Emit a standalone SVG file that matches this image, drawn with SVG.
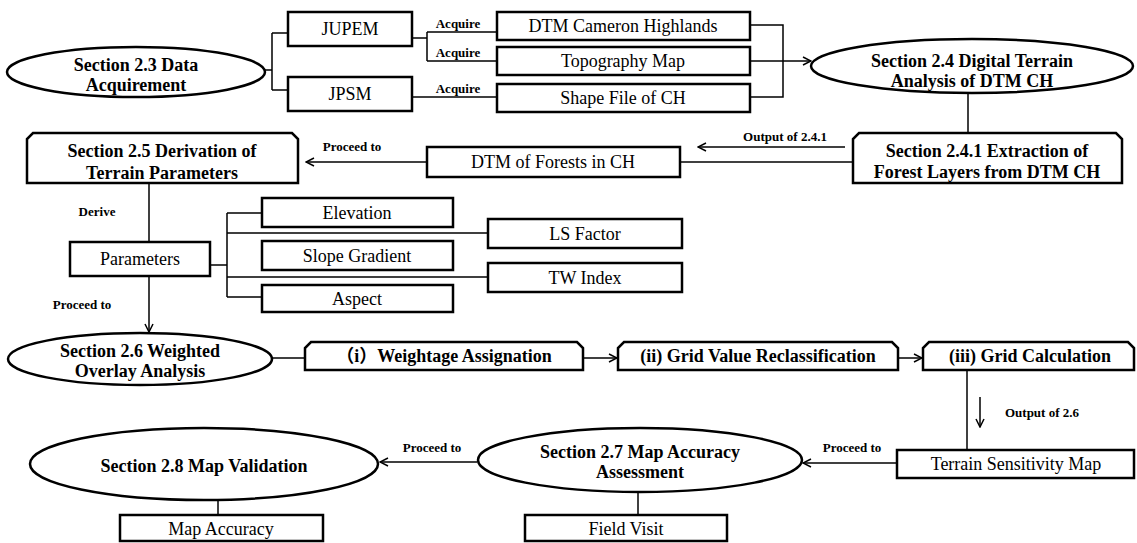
<svg xmlns="http://www.w3.org/2000/svg" width="1137" height="543" viewBox="0 0 1137 543">
<style>
.box{fill:#fff;stroke:#000;stroke-width:2.5}
.ell{fill:#fff;stroke:#000;stroke-width:2.5}
.ln{fill:none;stroke:#000;stroke-width:1.5}
.t{font-family:"Liberation Serif",serif;font-size:18px;text-anchor:middle;fill:#000}
.tb{font-family:"Liberation Serif",serif;font-size:18px;font-weight:bold;text-anchor:middle;fill:#000}
.lb{font-family:"Liberation Serif",serif;font-size:13px;font-weight:bold;text-anchor:middle;fill:#000}
.cjk{font-family:"Noto Sans CJK SC",sans-serif}
</style>
<defs>
<marker id="ah" viewBox="0 0 10 10" refX="9" refY="5" markerWidth="10" markerHeight="10" markerUnits="userSpaceOnUse" orient="auto">
<path d="M1,1 L9,5 L1,9" fill="none" stroke="#000" stroke-width="1.5"/>
</marker>
</defs>
<rect width="1137" height="543" fill="#fff"/>
<g id="connectors">
<path class="ln" d="M265,70 H272 M272,33 V90 M272,33 H288 M272,90 H288"/>
<path class="ln" d="M412,38 H427 M427,32 V61 M427,32 H497 M427,61 H497"/>
<path class="ln" d="M412,97 H497"/>
<path class="ln" d="M750,25 H783 V97 H750"/>
<path class="ln" d="M750,61 H811" marker-end="url(#ah)"/>
<path class="ln" d="M968,93 V133"/>
<path class="ln" d="M853,162 H680"/>
<path class="ln" d="M845,147 H698" marker-end="url(#ah)"/>
<path class="ln" d="M427,162 H306" marker-end="url(#ah)"/>
<path class="ln" d="M149,183 V242"/>
<path class="ln" d="M210,265 H227 M227,213 V297 M227,213 H262 M227,233 H488 M227,277 H488 M227,297 H262"/>
<path class="ln" d="M149,276 V332" marker-end="url(#ah)"/>
<path class="ln" d="M272,358 H305"/>
<path class="ln" d="M583,358 H617" marker-end="url(#ah)"/>
<path class="ln" d="M898,358 H922" marker-end="url(#ah)"/>
<path class="ln" d="M967,370 V450"/>
<path class="ln" d="M980,397 V427" marker-end="url(#ah)"/>
<path class="ln" d="M897,463 H803" marker-end="url(#ah)"/>
<path class="ln" d="M477,462 H380" marker-end="url(#ah)"/>
<path class="ln" d="M638,492 V515"/>
<path class="ln" d="M218,500 V515"/>
<text class="lb" x="458" y="28">Acquire</text>
<text class="lb" x="458" y="57">Acquire</text>
<text class="lb" x="458" y="93">Acquire</text>
<text class="lb" x="785" y="141">Output of 2.4.1</text>
<text class="lb" x="352" y="151">Proceed to</text>
<text class="lb" x="97" y="216">Derive</text>
<text class="lb" x="82" y="309">Proceed to</text>
<text class="lb" x="1042" y="417">Output of 2.6</text>
<text class="lb" x="852" y="452">Proceed to</text>
<text class="lb" x="432" y="452">Proceed to</text>
</g>
<g id="n23"><ellipse class="ell" cx="136" cy="72" rx="129" ry="25"/><text class="tb" x="136" y="71">Section 2.3 Data</text><text class="tb" x="136" y="91">Acquirement</text></g>
<g id="jupem"><rect class="box" x="288" y="12" width="124" height="34"/><text class="t" x="350" y="35">JUPEM</text></g>
<g id="jpsm"><rect class="box" x="288" y="77" width="124" height="34"/><text class="t" x="350" y="100">JPSM</text></g>
<g id="dtmch"><rect class="box" x="497" y="12" width="253" height="28"/><text class="t" x="623" y="32">DTM Cameron Highlands</text></g>
<g id="topo"><rect class="box" x="497" y="47" width="253" height="28"/><text class="t" x="623" y="67">Topography Map</text></g>
<g id="shape"><rect class="box" x="497" y="84" width="253" height="28"/><text class="t" x="623" y="104">Shape File of CH</text></g>
<g id="n24"><ellipse class="ell" cx="972" cy="66" rx="161" ry="27"/><text class="tb" x="972" y="67">Section 2.4 Digital Terrain</text><text class="tb" x="972" y="87">Analysis of DTM CH</text></g>
<g id="n241"><path class="box" d="M853,183 L853,139 L859,133 L1116,133 L1122,139 L1122,183 Z"/><text class="tb" x="987" y="157">Section 2.4.1 Extraction of</text><text class="tb" x="987" y="178">Forest Layers from DTM CH</text></g>
<g id="forests"><rect class="box" x="427" y="147" width="253" height="30"/><text class="t" x="553" y="168">DTM of Forests in CH</text></g>
<g id="n25"><path class="box" d="M27,183 L27,139 L33,133 L292,133 L298,139 L298,183 Z"/><text class="tb" x="162" y="157">Section 2.5 Derivation of</text><text class="tb" x="162" y="179">Terrain Parameters</text></g>
<g id="params"><rect class="box" x="70" y="242" width="140" height="34"/><text class="t" x="140" y="265">Parameters</text></g>
<g id="elev"><rect class="box" x="262" y="198" width="191" height="29"/><text class="t" x="357" y="219">Elevation</text></g>
<g id="ls"><rect class="box" x="488" y="219" width="194" height="29"/><text class="t" x="585" y="240">LS Factor</text></g>
<g id="slope"><rect class="box" x="262" y="241" width="191" height="29"/><text class="t" x="357" y="262">Slope Gradient</text></g>
<g id="tw"><rect class="box" x="488" y="263" width="194" height="29"/><text class="t" x="585" y="284">TW Index</text></g>
<g id="aspect"><rect class="box" x="262" y="285" width="191" height="27"/><text class="t" x="357" y="305">Aspect</text></g>
<g id="n26"><ellipse class="ell" cx="140" cy="359" rx="132" ry="26"/><text class="tb" x="140" y="357">Section 2.6 Weighted</text><text class="tb" x="140" y="377">Overlay Analysis</text></g>
<g id="s1"><path class="box" d="M305,370 L305,348 L311,342 L577,342 L583,348 L583,370 Z"/><text class="tb" x="444" y="362"><tspan class="cjk">（</tspan>i<tspan class="cjk">）</tspan>Weightage Assignation</text></g>
<g id="s2"><path class="box" d="M618,370 L618,348 L624,342 L892,342 L898,348 L898,370 Z"/><text class="tb" x="758" y="362">(ii) Grid Value Reclassification</text></g>
<g id="s3"><path class="box" d="M923,370 L923,348 L929,342 L1128,342 L1134,348 L1134,370 Z"/><text class="tb" x="1030" y="362">(iii) Grid Calculation</text></g>
<g id="tsm"><rect class="box" x="897" y="450" width="237" height="28"/><text class="t" x="1016" y="470">Terrain Sensitivity Map</text></g>
<g id="n27"><ellipse class="ell" cx="640" cy="460" rx="162" ry="32"/><text class="tb" x="640" y="458">Section 2.7 Map Accuracy</text><text class="tb" x="640" y="478">Assessment</text></g>
<g id="field"><rect class="box" x="525" y="515" width="202" height="26"/><text class="t" x="626" y="535">Field Visit</text></g>
<g id="n28"><ellipse class="ell" cx="204" cy="464" rx="174" ry="36"/><text class="tb" x="204" y="472">Section 2.8 Map Validation</text></g>
<g id="mapacc"><rect class="box" x="120" y="515" width="203" height="26"/><text class="t" x="221" y="535">Map Accuracy</text></g>
</svg>
